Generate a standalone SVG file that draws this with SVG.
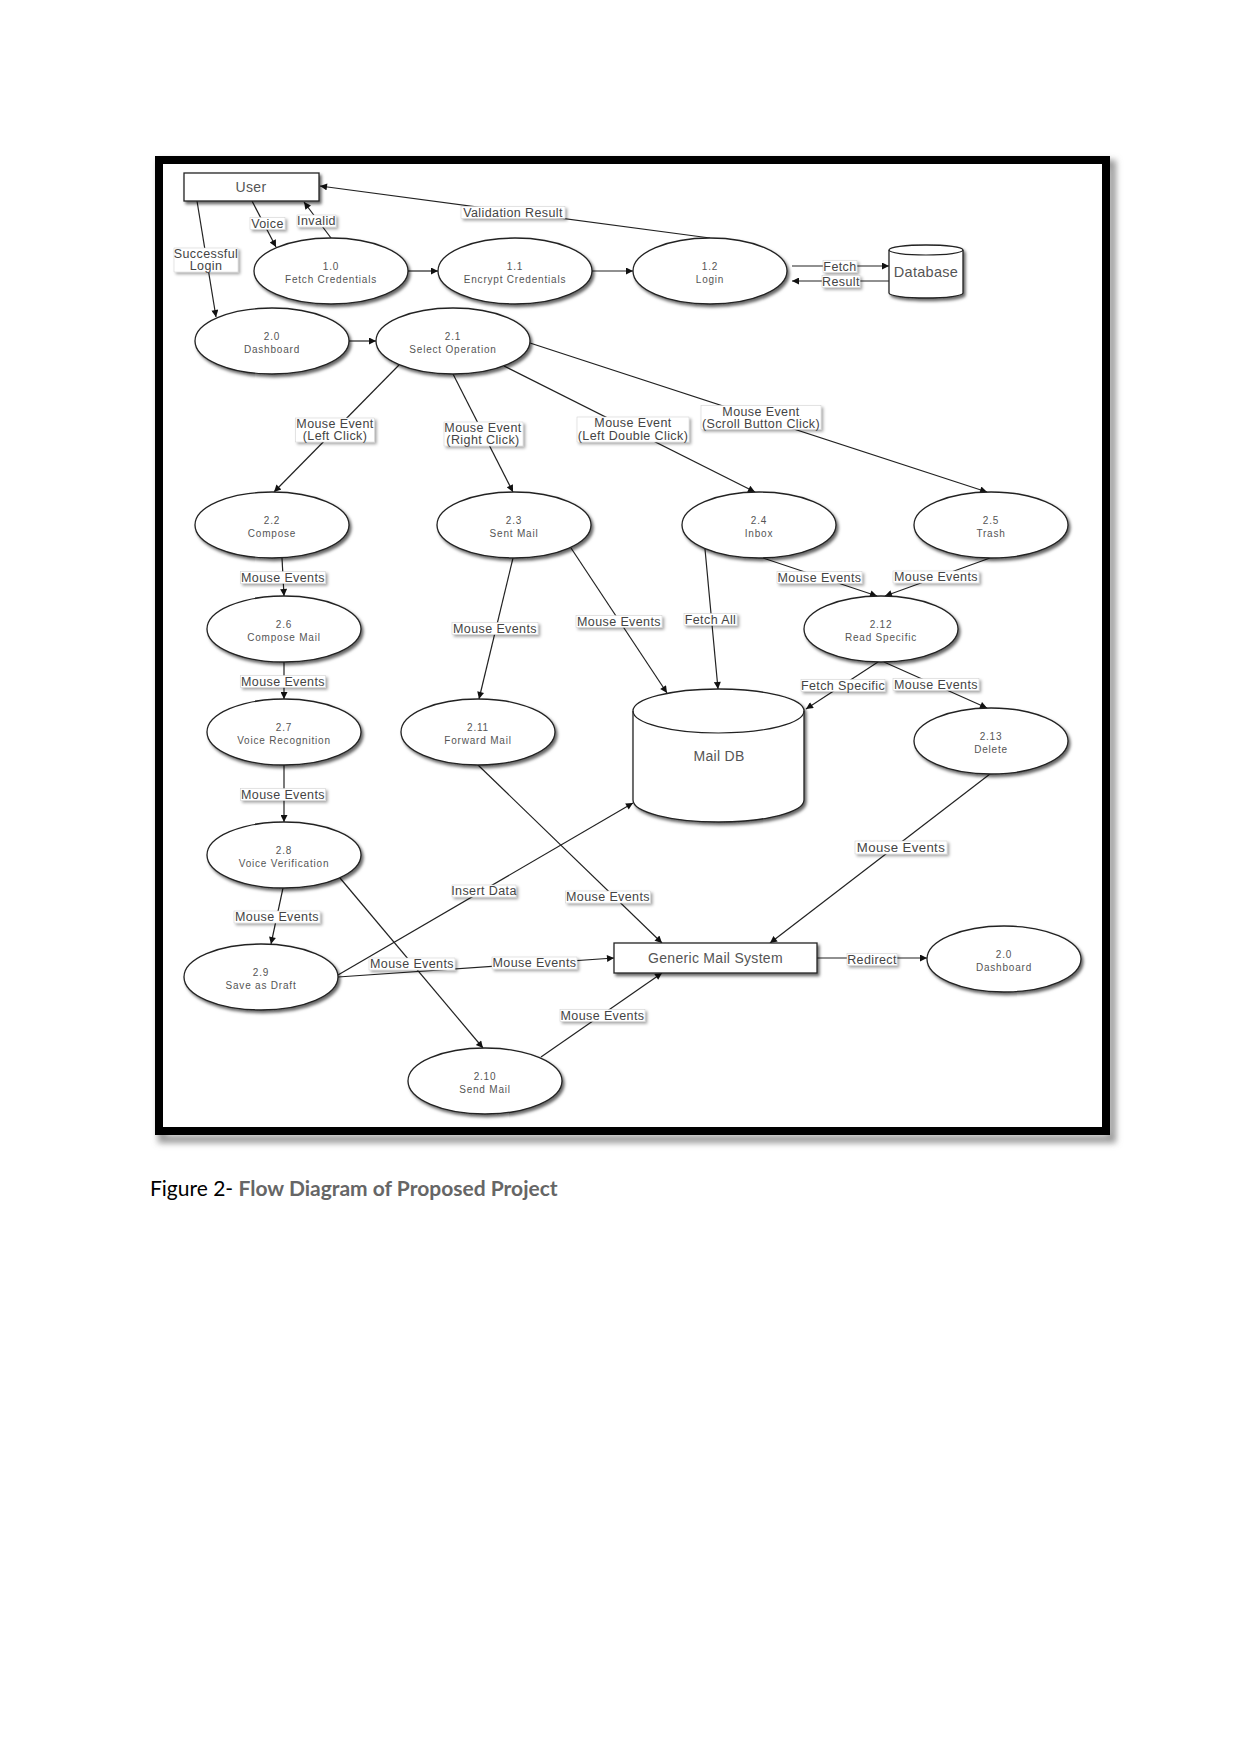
<svg xmlns="http://www.w3.org/2000/svg" width="1241" height="1754" viewBox="0 0 1241 1754">
<style>
.nd{fill:#fff;stroke:#222;stroke-width:1.3;filter:url(#sh)}
.nt{font-family:"Liberation Sans",Arial,sans-serif;font-size:10px;fill:#555;text-anchor:middle;letter-spacing:0.8px}
.bt{font-family:"Liberation Sans",Arial,sans-serif;font-size:14px;fill:#555;text-anchor:middle;letter-spacing:0.3px}
.ln{fill:none;stroke:#222;stroke-width:1.2;marker-end:url(#arr)}
.lb{fill:#fff;stroke:#ccc;stroke-width:0.5;filter:url(#sh2)}
.lt{font-family:"Liberation Sans",Arial,sans-serif;font-size:12.5px;fill:#444;text-anchor:middle;letter-spacing:0.4px}
</style>
<defs>
<filter id="sh" x="-20%" y="-20%" width="150%" height="160%"><feDropShadow dx="2" dy="2.5" stdDeviation="1.6" flood-color="#000" flood-opacity="0.6"/></filter>
<filter id="sh2" x="-20%" y="-40%" width="150%" height="200%"><feDropShadow dx="2" dy="2" stdDeviation="1.5" flood-color="#000" flood-opacity="0.35"/></filter>
<filter id="fs" x="-5%" y="-5%" width="110%" height="110%"><feGaussianBlur stdDeviation="3"/></filter>
<marker id="arr" viewBox="0 0 10 10" refX="10" refY="5" markerWidth="9" markerHeight="7" markerUnits="userSpaceOnUse" orient="auto"><path d="M0,0 L10,5 L0,10 z" fill="#111"/></marker>
</defs>
<rect width="1241" height="1754" fill="#fff"/>
<!-- frame -->
<g id="frame">
<rect x="162" y="164" width="950" height="975" fill="none" stroke="#999" stroke-width="8" filter="url(#fs)"/>
<rect x="159" y="160" width="947" height="971" fill="#fff" stroke="#000" stroke-width="8"/>
</g>
<!-- connectors -->
<g id="connectors">
<line class="ln" x1="252" y1="201" x2="276" y2="247"/>
<line class="ln" x1="331" y1="238" x2="304" y2="202"/>
<line class="ln" x1="710" y1="238" x2="320" y2="186"/>
<line class="ln" x1="197" y1="201" x2="216" y2="317"/>
<line class="ln" x1="408" y1="271" x2="438" y2="271"/>
<line class="ln" x1="592" y1="271" x2="633" y2="271"/>
<line class="ln" x1="792" y1="266" x2="889" y2="266"/>
<line class="ln" x1="889" y1="281" x2="792" y2="281"/>
<line class="ln" x1="349" y1="341" x2="376" y2="341"/>
<line class="ln" x1="399" y1="365" x2="274" y2="492"/>
<line class="ln" x1="453" y1="374" x2="513" y2="492"/>
<line class="ln" x1="504" y1="366" x2="755" y2="492"/>
<line class="ln" x1="530" y1="343" x2="987" y2="492"/>
<line class="ln" x1="282" y1="558" x2="284" y2="596"/>
<line class="ln" x1="513" y1="558" x2="479" y2="699"/>
<line class="ln" x1="571" y1="548" x2="667" y2="693"/>
<line class="ln" x1="705" y1="549" x2="718" y2="689"/>
<line class="ln" x1="763" y1="558" x2="877" y2="596"/>
<line class="ln" x1="990" y1="558" x2="885" y2="596"/>
<line class="ln" x1="878" y1="662" x2="806" y2="709"/>
<line class="ln" x1="884" y1="662" x2="987" y2="708"/>
<line class="ln" x1="284" y1="662" x2="284" y2="699"/>
<line class="ln" x1="284" y1="765" x2="284" y2="822"/>
<line class="ln" x1="283" y1="888" x2="271" y2="944"/>
<line class="ln" x1="340" y1="878" x2="483" y2="1048"/>
<line class="ln" x1="338" y1="977" x2="614" y2="958"/>
<line class="ln" x1="338" y1="975" x2="633" y2="803"/>
<line class="ln" x1="478" y1="765" x2="662" y2="943"/>
<line class="ln" x1="990" y1="774" x2="770" y2="943"/>
<line class="ln" x1="541" y1="1057" x2="662" y2="973"/>
<line class="ln" x1="817" y1="958" x2="927" y2="958"/>
</g>
<!-- connector labels -->
<g id="labels">
<rect class="lb" x="250" y="217.5" width="35" height="12"/><text class="lt" x="267.5" y="227.5">Voice</text>
<rect class="lb" x="297" y="215" width="39" height="12"/><text class="lt" x="316.5" y="225">Invalid</text>
<rect class="lb" x="461" y="206.5" width="104" height="12"/><text class="lt" x="513" y="216.5">Validation Result</text>
<rect class="lb" x="174" y="248" width="64" height="24"/><text class="lt" x="206" y="258">Successful</text><text class="lt" x="206" y="270">Login</text>
<rect class="lb" x="823" y="260.5" width="34" height="12"/><text class="lt" x="840" y="270.5">Fetch</text>
<rect class="lb" x="822" y="275.5" width="38" height="12"/><text class="lt" x="841" y="285.5">Result</text>
<rect class="lb" x="295.5" y="418" width="79" height="24"/><text class="lt" x="335" y="428">Mouse Event</text><text class="lt" x="335" y="440">(Left Click)</text>
<rect class="lb" x="444" y="422" width="79" height="24"/><text class="lt" x="483" y="432">Mouse Event</text><text class="lt" x="483" y="444">(Right Click)</text>
<rect class="lb" x="577" y="417" width="112" height="25"/><text class="lt" x="633" y="427">Mouse Event</text><text class="lt" x="633" y="439.5">(Left Double Click)</text>
<rect class="lb" x="701" y="405.5" width="120" height="24"/><text class="lt" x="761" y="415.5">Mouse Event</text><text class="lt" x="761" y="427.5">(Scroll Button Click)</text>
<rect class="lb" x="240.5" y="571.5" width="85" height="12"/><text class="lt" x="283" y="581.5">Mouse Events</text>
<rect class="lb" x="452" y="622.5" width="86" height="12"/><text class="lt" x="495" y="632.5">Mouse Events</text>
<rect class="lb" x="576" y="615.5" width="86" height="12"/><text class="lt" x="619" y="625.5">Mouse Events</text>
<rect class="lb" x="684" y="613.5" width="53" height="12"/><text class="lt" x="710.5" y="623.5">Fetch All</text>
<rect class="lb" x="777" y="571.5" width="85" height="12"/><text class="lt" x="819.5" y="581.5">Mouse Events</text>
<rect class="lb" x="893" y="571" width="86" height="12"/><text class="lt" x="936" y="581">Mouse Events</text>
<rect class="lb" x="801" y="679.5" width="84" height="12"/><text class="lt" x="843" y="689.5">Fetch Specific</text>
<rect class="lb" x="893" y="678.5" width="86" height="12"/><text class="lt" x="936" y="688.5">Mouse Events</text>
<rect class="lb" x="240.5" y="675.5" width="85" height="12"/><text class="lt" x="283" y="685.5">Mouse Events</text>
<rect class="lb" x="240.5" y="788.5" width="85" height="12"/><text class="lt" x="283" y="798.5">Mouse Events</text>
<rect class="lb" x="234" y="911" width="86" height="12"/><text class="lt" x="277" y="921">Mouse Events</text>
<rect class="lb" x="369" y="958" width="86" height="12"/><text class="lt" x="412" y="968">Mouse Events</text>
<rect class="lb" x="492" y="957" width="85" height="12"/><text class="lt" x="534.5" y="967">Mouse Events</text>
<rect class="lb" x="452" y="885" width="64" height="12"/><text class="lt" x="484" y="895">Insert Data</text>
<rect class="lb" x="565.5" y="891" width="85" height="12"/><text class="lt" x="608" y="901">Mouse Events</text>
<rect class="lb" x="855" y="841" width="92" height="13"/><text class="lt" x="901" y="852" style="font-size:13.2px">Mouse Events</text>
<rect class="lb" x="560" y="1009.5" width="85" height="12"/><text class="lt" x="602.5" y="1019.5">Mouse Events</text>
<rect class="lb" x="847" y="953.5" width="50" height="12"/><text class="lt" x="872" y="963.5">Redirect</text>
</g>
<!-- nodes -->
<g id="user"><rect class="nd" x="184" y="173" width="135" height="28"/><text class="bt" x="251" y="192">User</text></g>
<g id="n1_0"><ellipse class="nd" cx="331" cy="271" rx="77" ry="33"/><text class="nt" x="331" y="269.5">1.0</text><text class="nt" x="331" y="282.5">Fetch Credentials</text></g>
<g id="n1_1"><ellipse class="nd" cx="515" cy="271" rx="77" ry="33"/><text class="nt" x="515" y="269.5">1.1</text><text class="nt" x="515" y="282.5">Encrypt Credentials</text></g>
<g id="n1_2"><ellipse class="nd" cx="710" cy="271" rx="77" ry="33"/><text class="nt" x="710" y="269.5">1.2</text><text class="nt" x="710" y="282.5">Login</text></g>
<g id="database"><path class="nd" d="M889,250 A37,5 0 0 1 963,250 L963,293 A37,5 0 0 1 889,293 Z"/><path d="M889,250 A37,5 0 0 0 963,250" fill="none" stroke="#222" stroke-width="1.2"/><text class="bt" x="926" y="277" style="font-size:14.5px">Database</text></g>
<g id="n2_0"><ellipse class="nd" cx="272" cy="341" rx="77" ry="33"/><text class="nt" x="272" y="339.5">2.0</text><text class="nt" x="272" y="352.5">Dashboard</text></g>
<g id="n2_1"><ellipse class="nd" cx="453" cy="341" rx="77" ry="33"/><text class="nt" x="453" y="339.5">2.1</text><text class="nt" x="453" y="352.5">Select Operation</text></g>
<g id="n2_2"><ellipse class="nd" cx="272" cy="525" rx="77" ry="33"/><text class="nt" x="272" y="523.5">2.2</text><text class="nt" x="272" y="536.5">Compose</text></g>
<g id="n2_3"><ellipse class="nd" cx="514" cy="525" rx="77" ry="33"/><text class="nt" x="514" y="523.5">2.3</text><text class="nt" x="514" y="536.5">Sent Mail</text></g>
<g id="n2_4"><ellipse class="nd" cx="759" cy="525" rx="77" ry="33"/><text class="nt" x="759" y="523.5">2.4</text><text class="nt" x="759" y="536.5">Inbox</text></g>
<g id="n2_5"><ellipse class="nd" cx="991" cy="525" rx="77" ry="33"/><text class="nt" x="991" y="523.5">2.5</text><text class="nt" x="991" y="536.5">Trash</text></g>
<g id="n2_6"><ellipse class="nd" cx="284" cy="629" rx="77" ry="33"/><text class="nt" x="284" y="627.5">2.6</text><text class="nt" x="284" y="640.5">Compose Mail</text></g>
<g id="n2_12"><ellipse class="nd" cx="881" cy="629" rx="77" ry="33"/><text class="nt" x="881" y="627.5">2.12</text><text class="nt" x="881" y="640.5">Read Specific</text></g>
<g id="n2_7"><ellipse class="nd" cx="284" cy="732" rx="77" ry="33"/><text class="nt" x="284" y="730.5">2.7</text><text class="nt" x="284" y="743.5">Voice Recognition</text></g>
<g id="n2_11"><ellipse class="nd" cx="478" cy="732" rx="77" ry="33"/><text class="nt" x="478" y="730.5">2.11</text><text class="nt" x="478" y="743.5">Forward Mail</text></g>
<g id="maildb"><path class="nd" d="M633,711 A85.5,22 0 0 1 804,711 L804,800 A85.5,22 0 0 1 633,800 Z"/><path d="M633,711 A85.5,22 0 0 0 804,711" fill="none" stroke="#222" stroke-width="1.2"/><text class="bt" x="719" y="761">Mail DB</text></g>
<g id="n2_13"><ellipse class="nd" cx="991" cy="741" rx="77" ry="33"/><text class="nt" x="991" y="739.5">2.13</text><text class="nt" x="991" y="752.5">Delete</text></g>
<g id="n2_8"><ellipse class="nd" cx="284" cy="855" rx="77" ry="33"/><text class="nt" x="284" y="853.5">2.8</text><text class="nt" x="284" y="866.5">Voice Verification</text></g>
<g id="n2_9"><ellipse class="nd" cx="261" cy="977" rx="77" ry="33"/><text class="nt" x="261" y="975.5">2.9</text><text class="nt" x="261" y="988.5">Save as Draft</text></g>
<g id="generic"><rect class="nd" x="614" y="943" width="203" height="30"/><text class="bt" x="715.5" y="963">Generic Mail System</text></g>
<g id="n2_0b"><ellipse class="nd" cx="1004" cy="959" rx="77" ry="33"/><text class="nt" x="1004" y="957.5">2.0</text><text class="nt" x="1004" y="970.5">Dashboard</text></g>
<g id="n2_10"><ellipse class="nd" cx="485" cy="1081" rx="77" ry="33"/><text class="nt" x="485" y="1079.5">2.10</text><text class="nt" x="485" y="1092.5">Send Mail</text></g>
<!-- caption -->
<text x="150" y="1196" font-family="Lato, 'Open Sans', sans-serif" font-size="21px" fill="#000">Figure 2- <tspan font-weight="bold" fill="#666">Flow Diagram of Proposed Project</tspan></text>
</svg>
